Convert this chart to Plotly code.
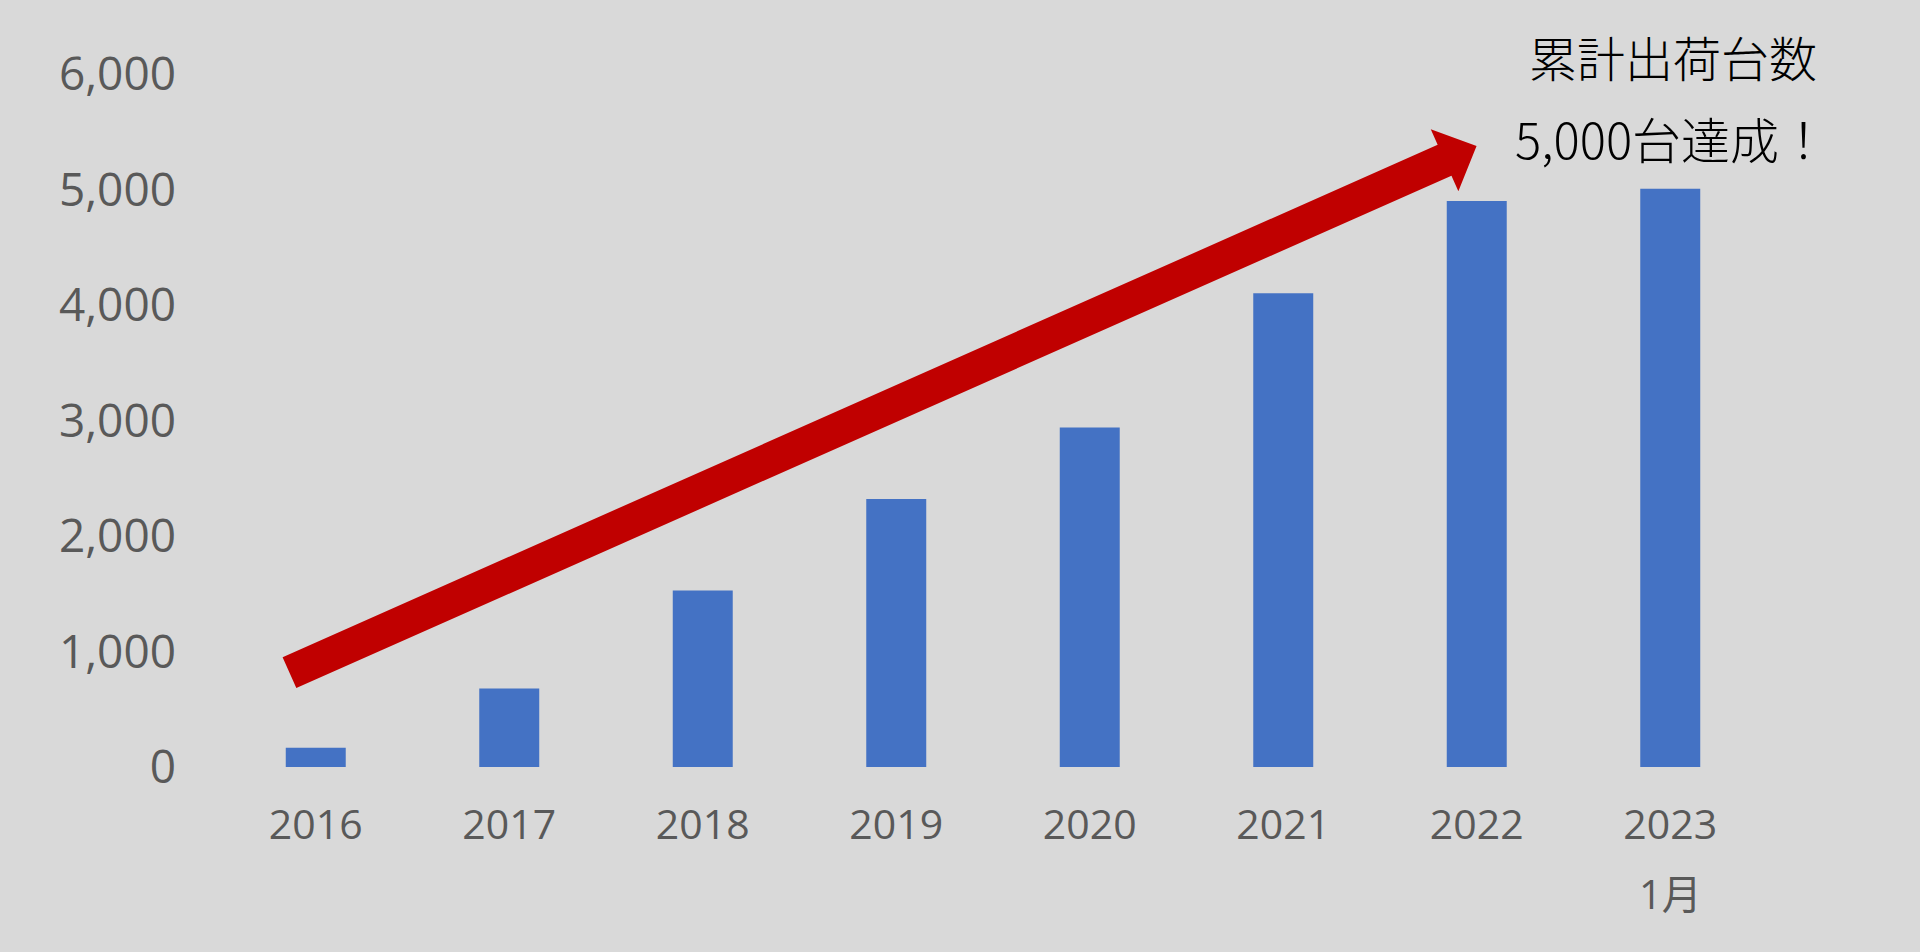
import plotly.graph_objects as go

# ---- data ----
years = ["2016", "2017", "2018", "2019", "2020", "2021", "2022", "2023"]
shipments = [166, 679, 1529, 2320, 2940, 4102, 4900, 5007]
y_tick_vals = [0, 1000, 2000, 3000, 4000, 5000, 6000]
sub_label_2023 = "1月"
headline_1 = "累計出荷台数"
headline_2 = "5,000台達成！"

# block-arrow outline in data coordinates (x = category index, y = units)
arrow_x = [-0.1713, 5.798, 5.7624, 5.999, 5.905, 5.8693, -0.1004]
arrow_y = [950.9, 5386.6, 5521.9, 5375.8, 4984.0, 5119.4, 683.6]

BG = "#D9D9D9"
TICK_COLOR = "#595959"
TICK_FONT = "Open Sans, Noto Sans CJK JP"
CJK_FONT = "Noto Sans CJK JP"

xpos = list(range(len(years)))

fig = go.Figure()
fig.add_trace(go.Bar(
    x=xpos, y=shipments, width=0.31,
    marker=dict(color="#4472C4", line=dict(width=0)),
    hoverinfo="skip",
))

path = "M " + " L ".join(f"{x},{y}" for x, y in zip(arrow_x, arrow_y)) + " Z"
fig.add_shape(type="path", path=path, xref="x", yref="y",
              fillcolor="#C00000", line=dict(width=0), layer="above")

fig.add_annotation(x=xpos[-1], xref="x", y=-0.182, yref="paper",
                   text=sub_label_2023, showarrow=False, xanchor="center", yanchor="middle",
                   font=dict(family=TICK_FONT, size=40, color=TICK_COLOR))
fig.add_annotation(x=0.9393, xref="paper", y=1.0264, yref="paper",
                   text=headline_1, showarrow=False, xanchor="center", yanchor="middle",
                   font=dict(family=CJK_FONT, size=48, color="#000000", weight=300))
fig.add_annotation(x=0.9380, xref="paper", y=0.9077, yref="paper",
                   text=headline_2, showarrow=False, xanchor="center", yanchor="middle",
                   font=dict(family=CJK_FONT, size=49, color="#000000", weight=300))

fig.update_layout(
    width=1920, height=952,
    margin=dict(l=219, r=153, t=74, b=185, autoexpand=False),
    paper_bgcolor=BG, plot_bgcolor=BG,
    showlegend=False,
    font=dict(family=TICK_FONT, color=TICK_COLOR),
    xaxis=dict(range=[-0.5, 7.5], tickmode="array", tickvals=xpos, ticktext=years,
               showgrid=False, zeroline=False, showline=False, ticks="",
               tickfont=dict(family=TICK_FONT, size=41, color=TICK_COLOR),
               ticklabelstandoff=30, fixedrange=True),
    yaxis=dict(range=[0, 6000], tickmode="array", tickvals=y_tick_vals,
               tickformat=",", showgrid=False, zeroline=False, showline=False, ticks="",
               tickfont=dict(family=TICK_FONT, size=46, color=TICK_COLOR),
               ticklabelstandoff=42, fixedrange=True),
)

fig.write_html("out.html", config={"displayModeBar": False},
               post_script="document.body.style.margin='0';document.body.style.background='#D9D9D9';")
